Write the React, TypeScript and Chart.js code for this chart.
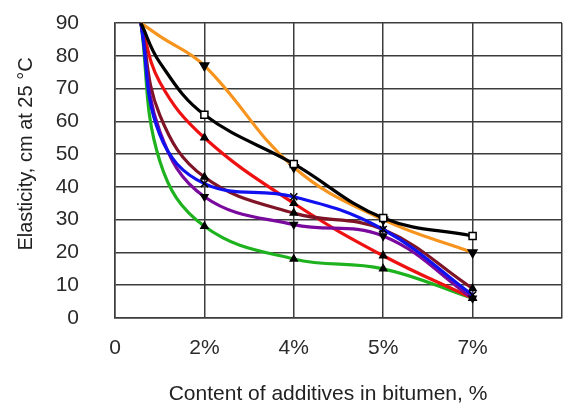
import React, { useEffect, useRef } from 'react';
import { Chart, registerables } from 'chart.js';

Chart.register(...registerables);

// x positions: 0 = "0", 1 = "2%", 2 = "4%", 3 = "5%", 4 = "7%", 5 = blank
const xTickLabels = ['0', '2%', '4%', '5%', '7%', ''];
const xPositions = [0.29, 0.5, 1, 2, 3, 4];
const blackSeries = [90, 78, 62, 47, 30.5, 25];
const orangeSeries = [90, 86, 77, 46, 30, 20];
const blueSeries = [90, 56, 41, 37, 27, 7];
const purpleSeries = [90, 57, 37, 28.5, 25, 6];
const maroonSeries = [90, 62, 43, 32, 27, 9];
const redSeries = [90, 72, 55, 35, 19, 6];
const greenSeries = [90, 48, 28, 18, 15, 6];
const markerShown = [0, 0, 1, 1, 1, 1];

const xTitle = 'Content of additives in bitumen, %';
const yTitle = 'Elasticity, cm at 25 °C';

const tickFamily = '"Liberation Sans Narrow", "Liberation Sans", Arial, sans-serif';

const titlePlugin = {
  id: 'axisTitlesCustom',
  afterDraw(chart: any) {
    const ctx = chart.ctx;
    ctx.save();
    ctx.fillStyle = '#222';
    ctx.textAlign = 'center';
    ctx.textBaseline = 'alphabetic';
    ctx.font = '21px "Liberation Sans", Arial, sans-serif';
    ctx.fillText(xTitle, 328, 400);
    ctx.font = '20px "Liberation Sans", Arial, sans-serif';
    ctx.translate(32, 154);
    ctx.rotate(-Math.PI / 2);
    ctx.fillText(yTitle, 0, 0);
    ctx.restore();
  },
};

function makeSet(values: number[], color: string, style: string, rotation: number, radius: number, bg: string) {
  return {
    data: values.map((v, i) => ({ x: xPositions[i], y: v })),
    borderColor: color,
    backgroundColor: color,
    borderWidth: 3.2,
    tension: 0.4,
    pointStyle: style,
    pointRotation: rotation,
    pointRadius: markerShown.map((m) => m * radius),
    pointBorderColor: '#000',
    pointBackgroundColor: bg,
    pointBorderWidth: 1.5,
    clip: false as const,
  };
}

export default function App() {
  const ref = useRef<HTMLCanvasElement | null>(null);
  useEffect(() => {
    if (!ref.current) return;
    const gridColor = '#3c3c3c';
    const chart = new Chart(ref.current, {
      type: 'line',
      data: {
        datasets: [
          makeSet(blackSeries, '#000000', 'rect', 0, 5, '#ffffff'),
          makeSet(orangeSeries, '#f7941d', 'triangle', 180, 5, '#000'),
          makeSet(blueSeries, '#1010f0', 'crossRot', 0, 5, '#000'),
          makeSet(purpleSeries, '#7a0a9e', 'triangle', 180, 4, '#000'),
          makeSet(maroonSeries, '#7e1426', 'triangle', 0, 4, '#000'),
          makeSet(redSeries, '#ee1111', 'triangle', 0, 4, '#000'),
          makeSet(greenSeries, '#1fb21f', 'triangle', 0, 4, '#000'),
        ] as any,
      },
      options: {
        animation: false,
        responsive: false,
        devicePixelRatio: 1,
        layout: { padding: { top: 0, right: 1, left: 0, bottom: 0 } },
        plugins: { legend: { display: false }, tooltip: { enabled: false } },
        scales: {
          x: {
            type: 'linear',
            min: 0,
            max: 5,
            afterFit: (s: any) => { s.height = 90; },
            ticks: {
              stepSize: 1,
              autoSkip: false,
              maxRotation: 0,
              padding: 18,
              color: '#2a2a2a',
              font: { family: tickFamily, size: 21 },
              callback: (v: any) => xTickLabels[Math.round(Number(v))] ?? '',
            },
            grid: { color: gridColor, lineWidth: 1.5, drawTicks: false },
            border: { color: gridColor, width: 1.5 },
          },
          y: {
            min: 0,
            max: 90,
            afterFit: (s: any) => { s.width = 115; s.paddingTop = 23; },
            ticks: {
              stepSize: 10,
              padding: 36,
              color: '#2a2a2a',
              font: { family: tickFamily, size: 21 },
            },
            grid: { color: gridColor, lineWidth: 1.5, drawTicks: false },
            border: { color: gridColor, width: 1.5 },
          },
        },
      },
      plugins: [titlePlugin],
    });
    return () => chart.destroy();
  }, []);
  return (
    <div style={{ position: 'absolute', left: 0, top: 0, width: 580, height: 408, background: '#fff' }}>
      <canvas ref={ref} width={580} height={408} />
    </div>
  );
}
